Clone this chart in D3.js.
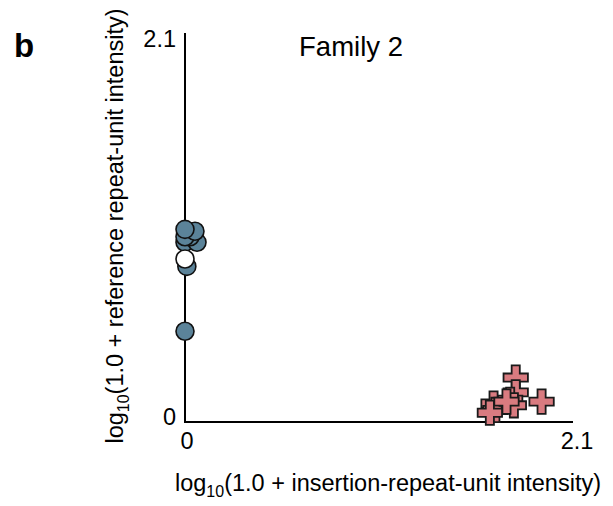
<!DOCTYPE html>
<html><head><meta charset="utf-8">
<script src="https://cdn.jsdelivr.net/npm/d3@7"></script>
<style>body{margin:0;background:#fff}svg{display:block;font-family:"Liberation Sans",Arial,sans-serif}</style>
</head><body>
<script>
const refX = [0, 0.054, 0, 0.027, 0.065, 0, 0.01, 0];
const refY = [1.04, 1.03, 1.00, 1.00, 0.97, 0.97, 0.84, 0.49];
const whiteX = [0];
const whiteY = [0.88];
const insX = [1.79, 1.93, 1.79, 1.67, 1.68, 1.76, 1.78, 1.74, 1.65];
const insY = [0.24, 0.11, 0.16, 0.10, 0.065, 0.12, 0.09, 0.11, 0.05];
const tickLabels = ["0", "2.1"];
const domainMax = 2.1;

const W = 613, H = 506;
const svg = d3.select("body").append("svg").attr("width", W).attr("height", H);
const x = d3.scaleLinear().domain([0, domainMax]).range([185, 573]);
const y = d3.scaleLinear().domain([0, domainMax]).range([422, 33]);

svg.append("line").attr("x1", x(0) - 1).attr("x2", x(domainMax)).attr("y1", y(0)).attr("y2", y(0)).attr("stroke", "#000").attr("stroke-width", 2);
svg.append("line").attr("x1", x(0)).attr("x2", x(0)).attr("y1", y(0)).attr("y2", y(domainMax)).attr("stroke", "#000").attr("stroke-width", 2);

// tick labels
const fs = 23.5;
svg.append("text").attr("x", x(0) + 2).attr("y", 449).attr("text-anchor", "middle").attr("font-size", fs).text(tickLabels[0]);
svg.append("text").attr("x", 577).attr("y", 449).attr("text-anchor", "middle").attr("font-size", fs).text(tickLabels[1]);
svg.append("text").attr("x", 176).attr("y", 425).attr("text-anchor", "end").attr("font-size", fs).text(tickLabels[0]);
svg.append("text").attr("x", 176).attr("y", 47).attr("text-anchor", "end").attr("font-size", fs).text(tickLabels[1]);

svg.append("text").attr("x", 14).attr("y", 57).attr("font-size", 33).attr("font-weight", "bold").text("b");
svg.append("text").attr("x", 351).attr("y", 56).attr("text-anchor", "middle").attr("font-size", 27.5).text("Family 2");

const xl = svg.append("text").attr("x", 388).attr("y", 491).attr("text-anchor", "middle").attr("font-size", fs);
xl.append("tspan").text("log");
xl.append("tspan").attr("font-size", 16).attr("dy", 6).text("10");
xl.append("tspan").attr("dy", -6).text("(1.0 + insertion-repeat-unit intensity)");

const yl = svg.append("text").attr("transform", "translate(123,226) rotate(-90)").attr("text-anchor", "middle").attr("font-size", fs);
yl.append("tspan").text("log");
yl.append("tspan").attr("font-size", 16).attr("dy", 6).text("10");
yl.append("tspan").attr("dy", -6).text("(1.0 + reference repeat-unit intensity)");

// circles
const circ = refX.map((v, i) => ({x: v, y: refY[i]}));
svg.selectAll("circle.ref").data(circ.slice().reverse()).join("circle")
  .attr("cx", d => x(d.x)).attr("cy", d => y(d.y)).attr("r", 9)
  .attr("fill", "#5b8399").attr("stroke", "#111").attr("stroke-width", 1.6);
svg.selectAll("circle.wh").data(whiteX.map((v, i) => ({x: v, y: whiteY[i]}))).join("circle")
  .attr("cx", d => x(d.x)).attr("cy", d => y(d.y)).attr("r", 9)
  .attr("fill", "#fff").attr("stroke", "#111").attr("stroke-width", 1.6);

// crosses
const crossPath = d3.symbol().type(d3.symbolCross).size(330);
const ins = insX.map((v, i) => ({x: v, y: insY[i]}));
svg.selectAll("path.ins").data(ins).join("path")
  .attr("d", crossPath)
  .attr("transform", d => `translate(${x(d.x)},${y(d.y)})`)
  .attr("fill", "#d97b80").attr("stroke", "#1a1a1a").attr("stroke-width", 1.8);
</script>
</body></html>
